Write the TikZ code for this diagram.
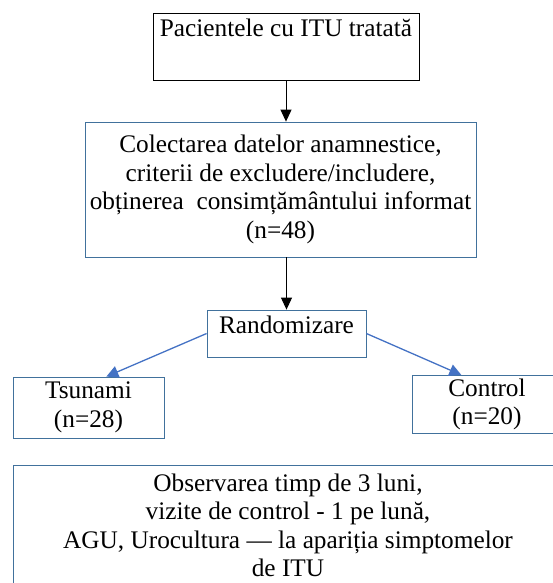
\documentclass[tikz,border=0pt]{standalone}
\usepackage{fontspec}
\setmainfont{Liberation Serif}
\usetikzlibrary{arrows.meta}
\definecolor{boxline}{RGB}{65,113,156}
\definecolor{arrowblue}{RGB}{68,114,196}

\begin{document}
\begin{tikzpicture}[x=1pt,y=-1pt]
                \tikzstyle{every node}+=[font=\fontsize{25.3}{28.6}\selectfont, align=center]
                \tikzstyle{stage}=[draw=boxline, line width=0.8pt]
                \tikzstyle{flow}=[black, line width=1pt, -{Triangle[length=12pt,width=11pt]}]
                \tikzstyle{branch}=[arrowblue, line width=1.3pt, -{Triangle[length=12pt,width=12pt]}]
                \useasboundingbox (0,0) rectangle (553,583);
                \clip (0,0) rectangle (553,583);
                % main column
                \node [draw=black, line width=0.8pt, anchor=base, minimum width=266pt, inner ysep=4pt, text height=20pt, text depth=39pt] (pac) at (286,37) {Pacientele cu ITU tratată};
                \node [stage, minimum width=391pt, minimum height=135pt] (col) at (280.5,189.5) {Colectarea datelor anamnestice,\\criterii de excludere/includere,\\obținerea\ \ consimțământului informat\\(n=48)};
                \node [stage, anchor=base, minimum width=159pt, inner ysep=4pt, text height=19pt, text depth=20pt] (rnd) at (286.5,333) {Randomizare};
                % the two arms
                \node [stage, minimum width=151pt, minimum height=61pt] (tsu) at (88.5,407.5) {Tsunami\\(n=28)};
                \node [stage, minimum width=150pt, minimum height=57pt] (ctl) at (487,404.5) {Control\\(n=20)};
                \node [stage, anchor=north, minimum width=550pt, minimum height=120pt] (obs) at (288,465) {Observarea timp de 3 luni,\\vizite de control - 1 pe lună,\\AGU, Urocultura --- la apariția simptomelor\\de ITU};
                % arrows
                \draw [flow] (pac.south) -- (pac.south |- col.north);
                \draw [flow] (col.south -| rnd.north) -- (rnd.north);
                \draw [branch] (rnd.west) -- (tsu.60);
                \draw [branch] (rnd.east) -- (ctl.131);
\end{tikzpicture}
\end{document}
